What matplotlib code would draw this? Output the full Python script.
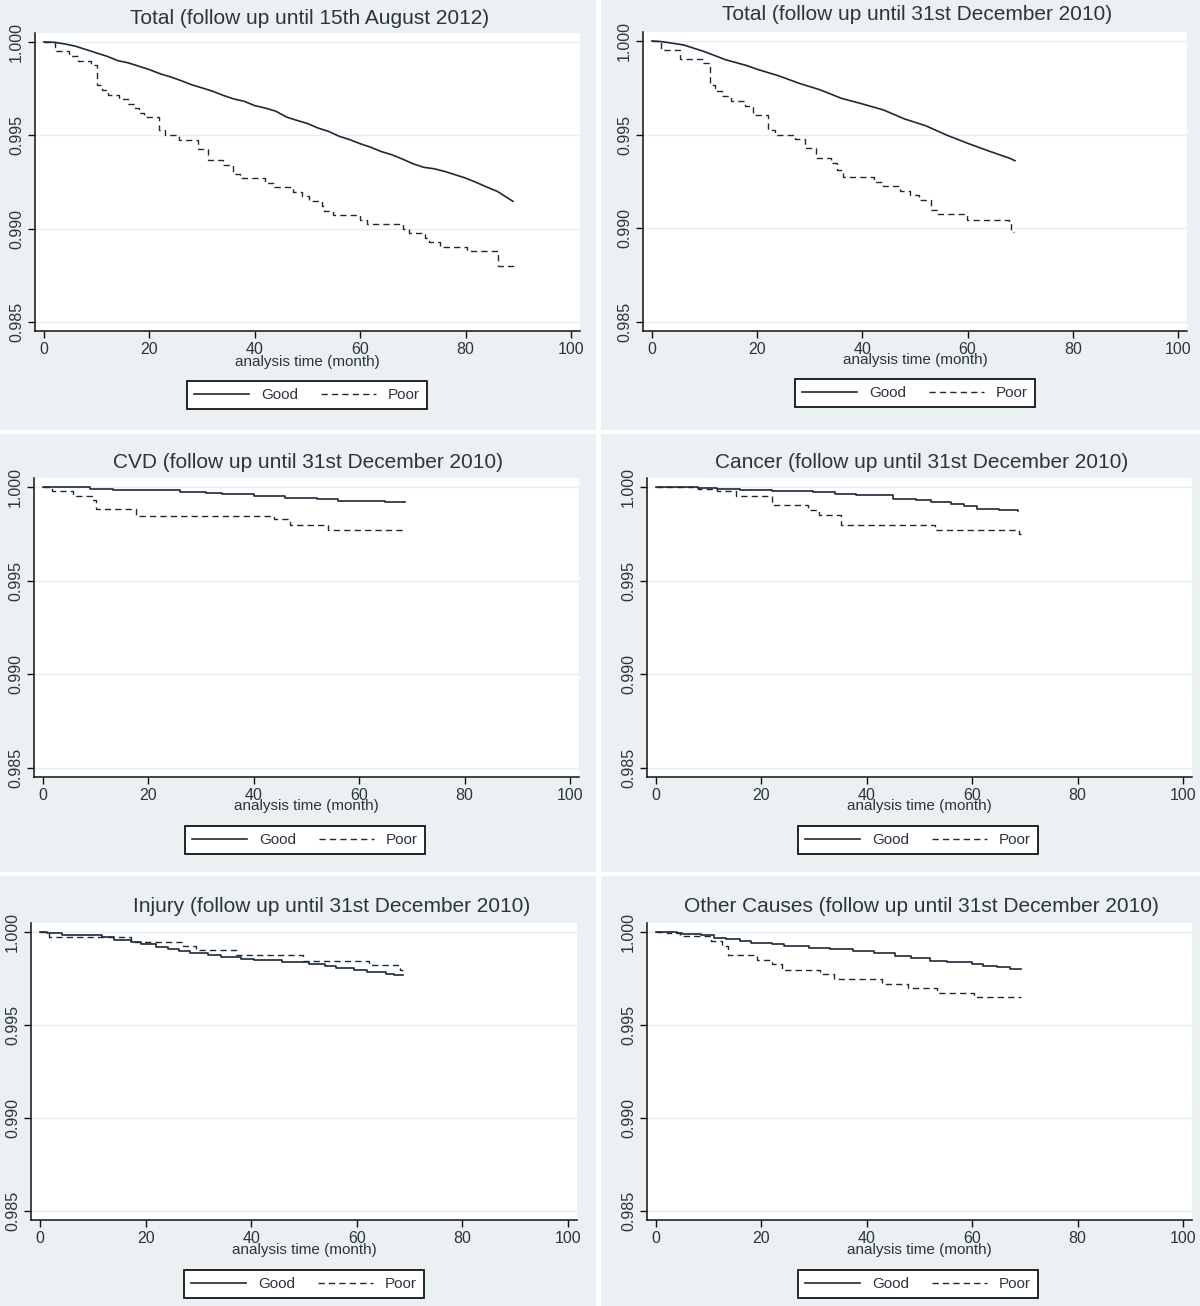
import matplotlib
matplotlib.use("Agg")
import matplotlib.pyplot as plt
from matplotlib.patches import Rectangle

plt.rcParams['font.family'] = ['Liberation Sans', 'DejaVu Sans']

W, H = 1200, 1306

# ---------------- data ----------------
titles = [
    "Total (follow up until 15th August 2012)",
    "Total (follow up until 31st December 2010)",
    "CVD (follow up until 31st December 2010)",
    "Cancer (follow up until 31st December 2010)",
    "Injury (follow up until 31st December 2010)",
    "Other Causes (follow up until 31st December 2010)",
]
xlabel = "analysis time (month)"
series_labels = ["Good", "Poor"]
xticks = [0, 20, 40, 60, 80, 100]
yticks = [0.985, 0.990, 0.995, 1.000]
ytick_labels = ["0.985", "0.990", "0.995", "1.000"]

total12_good_t = [0, 2, 4, 6, 8, 10, 12, 14, 16, 18, 20, 22, 24, 26, 28, 30, 32, 34, 36, 38, 40,
                  42, 44, 46, 48, 50, 52, 54, 56, 58, 60, 62, 64, 66, 68, 70, 72, 74, 76, 78, 80,
                  82, 84, 86, 88, 89]
total12_good_s = [1.0, 0.99998, 0.99989, 0.99977, 0.99959, 0.99941, 0.99923, 0.99900, 0.99888,
                  0.99870, 0.99852, 0.99830, 0.99813, 0.99793, 0.99771, 0.99754, 0.99736, 0.99714,
                  0.99695, 0.99682, 0.99659, 0.99646, 0.99629, 0.99598, 0.99580, 0.99563, 0.99539,
                  0.99521, 0.99495, 0.99477, 0.99455, 0.99436, 0.99413, 0.99396, 0.99373, 0.99348,
                  0.99329, 0.99321, 0.99307, 0.99289, 0.99271, 0.99248, 0.99223, 0.99200, 0.99164,
                  0.99146]
total12_poor_t = [0, 2.0, 4.8, 6.4, 9.0, 10.0, 11.0, 12.1, 14.3, 15.9, 17.3, 18.1, 19.0, 21.9,
                  22.9, 25.7, 29.2, 31.2, 33.9, 35.9, 37.2, 42.0, 43.7, 47.2, 49.0, 50.3, 52.7,
                  53.2, 54.8, 59.9, 61.3, 68.2, 69.3, 72.2, 73.1, 75.1, 80.2, 86.2, 89.1]
total12_poor_s = [1.0, 0.99950, 0.99927, 0.99900, 0.99875, 0.99771, 0.99745, 0.99718, 0.99695,
                  0.99670, 0.99646, 0.99620, 0.99598, 0.99527, 0.99500, 0.99477, 0.99429, 0.99370,
                  0.99343, 0.99295, 0.99271, 0.99245, 0.99223, 0.99196, 0.99173, 0.99146, 0.99123,
                  0.99096, 0.99073, 0.99048, 0.99025, 0.98998, 0.98977, 0.98950, 0.98927, 0.98900,
                  0.98879, 0.98802, 0.98802]

total10_good_t = [0, 2, 6, 10, 14, 18, 20, 24, 28, 32, 36, 40, 44, 48, 52, 56, 60, 64, 68, 69]
total10_good_s = [1.0, 0.99996, 0.99979, 0.99943, 0.99900, 0.99869, 0.99849, 0.99815, 0.99774,
                  0.99739, 0.99694, 0.99664, 0.99632, 0.99584, 0.99548, 0.99498, 0.99454, 0.99413,
                  0.99374, 0.99361]
total10_poor_t = [0, 1.7, 5.3, 9.7, 11.1, 11.9, 13.3, 15.1, 17.7, 19.2, 22.1, 23.3, 27.2, 29.0,
                  31.2, 34.1, 35.2, 36.3, 42.3, 43.9, 47.2, 49.0, 50.8, 53.0, 54.1, 59.8, 67.8,
                  68.3, 68.9]
total10_poor_s = [1.0, 0.99952, 0.99904, 0.99881, 0.99765, 0.99733, 0.99706, 0.99680, 0.99655,
                  0.99605, 0.99525, 0.99500, 0.99476, 0.99427, 0.99373, 0.99351, 0.99311, 0.99276,
                  0.99249, 0.99226, 0.99199, 0.99178, 0.99151, 0.99098, 0.99077, 0.99044, 0.99027,
                  0.98982, 0.98982]

cvd_good_t = [0, 8.9, 13.3, 26, 31, 34, 40, 46, 52, 56, 64.8, 68.6]
cvd_good_s = [1.0, 0.99991, 0.99982, 0.99973, 0.99968, 0.99961, 0.99952, 0.99943, 0.99934,
              0.99925, 0.99918, 0.99918]
cvd_poor_t = [0, 1.7, 5.7, 9.3, 10.0, 17.6, 43.8, 46.8, 54.1, 68.6]
cvd_poor_s = [1.0, 0.99979, 0.99954, 0.99930, 0.99881, 0.99843, 0.99831, 0.99795, 0.99772, 0.99772]

cancer_good_t = [0, 7.9, 11.5, 15.9, 22, 29.7, 34, 38, 45, 49.3, 52.2, 55.9, 58.4, 61, 65, 68.6]
cancer_good_s = [1.0, 0.99996, 0.99991, 0.99986, 0.99979, 0.99972, 0.99964, 0.99955, 0.99938,
                 0.99929, 0.99920, 0.99907, 0.99897, 0.99884, 0.99875, 0.99870]
cancer_poor_t = [0, 7.9, 11.5, 15.1, 22, 28.9, 30.9, 35.1, 52.9, 68.9, 69.2]
cancer_poor_s = [1.0, 0.99991, 0.99977, 0.99952, 0.99902, 0.99879, 0.99849, 0.99795, 0.99772,
                 0.99751, 0.99751]

injury_good_t = [0, 1.3, 4.2, 11.8, 14, 17.3, 19.1, 22, 24.2, 26.3, 28.5, 31.8, 34.3, 38, 40.5,
                 45.9, 51, 53.9, 56.1, 59.4, 61.9, 65.5, 67, 68.8]
injury_good_s = [1.0, 0.99996, 0.99984, 0.99973, 0.99957, 0.99946, 0.99934, 0.99919, 0.99910,
                 0.99898, 0.99885, 0.99875, 0.99866, 0.99857, 0.99848, 0.99837, 0.99826, 0.99817,
                 0.99808, 0.99796, 0.99785, 0.99776, 0.99767, 0.99767]
injury_poor_t = [0, 1.7, 17.3, 27, 29.6, 37.2, 49.9, 62.3, 68.1, 68.8]
injury_poor_s = [1.0, 0.99973, 0.99946, 0.99925, 0.99901, 0.99876, 0.99844, 0.99821, 0.99797,
                 0.99797]

other_good_t = [0, 3.9, 5, 8.6, 11.1, 13.3, 15.9, 18.1, 22.1, 24.3, 29, 33, 37.4, 41.4, 45.4,
                48.3, 51.9, 55.2, 59.9, 62.1, 64.7, 67.2, 69.2]
other_good_s = [1.0, 0.99993, 0.99987, 0.99982, 0.99970, 0.99961, 0.99952, 0.99943, 0.99934,
                0.99925, 0.99916, 0.99907, 0.99898, 0.99886, 0.99871, 0.99859, 0.99845, 0.99836,
                0.99827, 0.99818, 0.99809, 0.99800, 0.99800]
other_poor_t = [0, 2, 4.6, 10.4, 12.6, 13.7, 19.2, 22.1, 23.9, 31.2, 33.7, 42.8, 47.9, 53.4,
                60.3, 69.2]
other_poor_s = [1.0, 0.99995, 0.99979, 0.99952, 0.99925, 0.99875, 0.99848, 0.99827, 0.99796,
                0.99773, 0.99746, 0.99720, 0.99698, 0.99670, 0.99648, 0.99648]

panel_data = [
    (total12_good_t, total12_good_s, total12_poor_t, total12_poor_s, True),
    (total10_good_t, total10_good_s, total10_poor_t, total10_poor_s, True),
    (cvd_good_t, cvd_good_s, cvd_poor_t, cvd_poor_s, False),
    (cancer_good_t, cancer_good_s, cancer_poor_t, cancer_poor_s, False),
    (injury_good_t, injury_good_s, injury_poor_t, injury_poor_s, False),
    (other_good_t, other_good_s, other_poor_t, other_poor_s, False),
]

# ---------------- layout (pixels) ----------------
BG = "#EBF0F2"
LINE = "#1c2a38"
TXT = "#2a3540"

panel_boxes = [(0, 0, 596, 430), (601, 0, 1200, 430),
               (0, 434, 596, 872), (601, 434, 1200, 872),
               (0, 876, 596, 1306), (601, 876, 1200, 1306)]
axes_boxes = [(35, 33, 580, 331), (643, 32, 1187, 331),
              (34, 478, 579, 777), (647, 478, 1192, 777),
              (31, 923, 577, 1220), (647, 923, 1192, 1220)]
title_pos = [(310, 18), (917, 15), (308, 462), (922, 462), (332, 907), (921, 907)]
xlabel_pos = [(307, 362), (915, 360), (306, 806), (919, 806), (304, 1250), (919, 1250)]
legend_pos = [(307, 395), (915, 393), (305, 840), (918, 840), (304, 1284), (918, 1284)]

fig = plt.figure(figsize=(W / 100, H / 100), dpi=100)
fig.patch.set_facecolor("white")

for (x0, y0, x1, y1) in panel_boxes:
    fig.add_artist(Rectangle((x0 / W, 1 - y1 / H), (x1 - x0) / W, (y1 - y0) / H,
                             transform=fig.transFigure, facecolor=BG, edgecolor="none",
                             zorder=-5))

for i in range(6):
    l, t, r, b = axes_boxes[i]
    ax = fig.add_axes([l / W, 1 - b / H, (r - l) / W, (b - t) / H])
    ax.set_facecolor("white")
    gt, gs, pt, ps, smooth = panel_data[i]
    if smooth:
        ax.plot(gt, gs, color=LINE, lw=1.2, label=series_labels[0])
    else:
        ax.step(gt, gs, where="post", color=LINE, lw=1.2, label=series_labels[0])
    ax.step(pt, ps, where="post", color=LINE, lw=1.0, dashes=(4.5, 3), label=series_labels[1])

    ax.set_xlim(-1.7, 101.7)
    ax.set_ylim(0.98452, 1.00048)
    ax.set_xticks(xticks)
    ax.set_xticklabels([str(v) for v in xticks])
    ax.set_yticks(yticks)
    ax.set_yticklabels(ytick_labels, rotation=90, va="center")
    ax.grid(axis="y", color="#E8EEF1", lw=1.0)
    ax.set_axisbelow(True)
    for s in ("top", "right"):
        ax.spines[s].set_visible(False)
    for s in ("left", "bottom"):
        ax.spines[s].set_color("#111111")
        ax.spines[s].set_linewidth(1.1)
    ax.tick_params(direction="out", length=5, width=1, color="#111111",
                   labelcolor=TXT, labelsize=11.5, pad=3)

    tx, ty = title_pos[i]
    fig.text(tx / W, 1 - ty / H, titles[i], ha="center", va="center",
             fontsize=15, color=TXT)
    lx, ly = xlabel_pos[i]
    fig.text(lx / W, 1 - ly / H, xlabel, ha="center", va="center",
             fontsize=11, color=TXT)
    gx, gy = legend_pos[i]
    leg = ax.legend(loc="center", bbox_to_anchor=(gx / W, 1 - gy / H),
                    bbox_transform=fig.transFigure, ncol=2, fontsize=11,
                    frameon=True, fancybox=False, framealpha=1, edgecolor="black",
                    handlelength=3.6, handletextpad=0.8, columnspacing=1.5,
                    borderpad=0.45, borderaxespad=0)
    leg.get_frame().set_linewidth(1.2)
    for txt in leg.get_texts():
        txt.set_color(TXT)

fig.savefig("out.png", dpi=100, facecolor=fig.get_facecolor())
